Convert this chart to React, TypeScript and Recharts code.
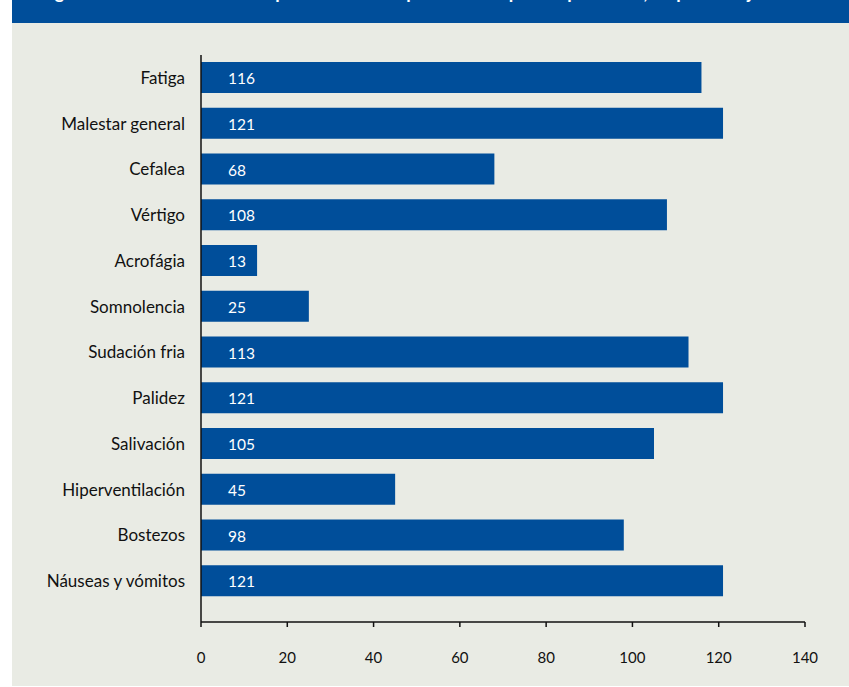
import React from "react";
import { BarChart, Bar, XAxis, YAxis, LabelList } from "recharts";

const categories = [
  "Fatiga",
  "Malestar general",
  "Cefalea",
  "Vértigo",
  "Acrofágia",
  "Somnolencia",
  "Sudación fria",
  "Palidez",
  "Salivación",
  "Hiperventilación",
  "Bostezos",
  "Náuseas y vómitos",
];
const values = [116, 121, 68, 108, 13, 25, 113, 121, 105, 45, 98, 121];
const xTicks = [0, 20, 40, 60, 80, 100, 120, 140];
const title = "Figura 1. Síntomas del mareo por movimiento presentados por los pacientes, en porcentaje";

const data = categories.map((c, i) => ({ name: c, value: values[i] }));

const BLUE = "#004e9a";
const BG = "#e9ebe4";
const FONT = "Lato, 'Open Sans', sans-serif";

export default function App() {
  return (
    <div style={{ position: "fixed", left: 0, top: 0, width: 849, height: 687, background: "#ffffff", overflow: "hidden" }}>
      <div style={{ position: "absolute", left: 12, top: 0, width: 837, height: 23, background: BLUE, overflow: "hidden" }}>
        <div
          style={{
            position: "absolute",
            left: 28,
            top: -17,
            whiteSpace: "nowrap",
            color: "#ffffff",
            fontFamily: FONT,
            fontWeight: 700,
            fontSize: 18,
            lineHeight: "18px",
          }}
        >
          {title}
        </div>
      </div>
      <div style={{ position: "absolute", left: 12, top: 23, width: 837, height: 663, background: BG }} />
      <div style={{ position: "absolute", left: 0, top: 0 }}>
        <BarChart
          width={849}
          height={687}
          data={data}
          layout="vertical"
          margin={{ top: 55, right: 44, bottom: 15, left: 0 }}
        >
          <XAxis
            type="number"
            domain={[0, 140]}
            ticks={xTicks}
            height={50}
            axisLine={{ stroke: "#111", strokeWidth: 1.5 }}
            tickLine={{ stroke: "#111", strokeWidth: 1.5 }}
            tickSize={5}
            tickMargin={25}
            tick={{ fill: "#111", fontSize: 15, fontFamily: FONT }}
            allowDataOverflow
          />
          <YAxis
            type="category"
            dataKey="name"
            width={201}
            padding={{ top: 0, bottom: 18 }}
            axisLine={{ stroke: "#111", strokeWidth: 1.5 }}
            tickLine={false}
            tickSize={0}
            tickMargin={16}
            tick={{ fill: "#111", fontSize: 17, fontFamily: FONT }}
            interval={0}
          />
          <Bar dataKey="value" fill={BLUE} barSize={31} isAnimationActive={false}>
            <LabelList
              dataKey="value"
              position="insideLeft"
              offset={27}
              fill="#ffffff"
              fontSize={15.5}
              fontFamily={FONT}
              dy={1}
            />
          </Bar>
        </BarChart>
      </div>
    </div>
  );
}
